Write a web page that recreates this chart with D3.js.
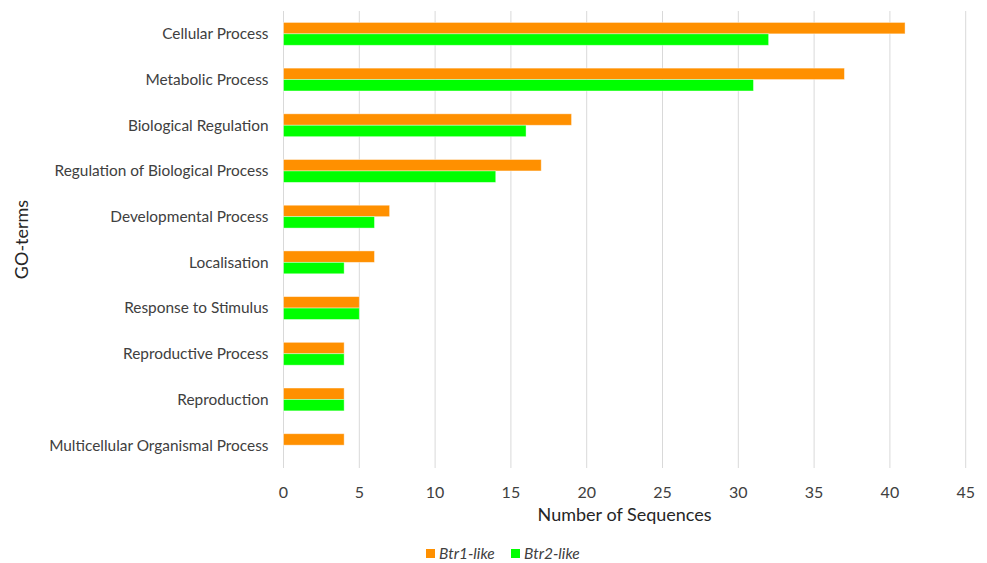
<!DOCTYPE html>
<html>
<head>
<meta charset="utf-8">
<script src="https://cdn.jsdelivr.net/npm/d3@7"></script>
<style>
  body { margin: 0; background: #fff; }
  svg { font-family: Lato, "Open Sans", sans-serif; }
</style>
</head>
<body>
<div id="chart"></div>
<script>
// data
var categories = ["Cellular Process", "Metabolic Process", "Biological Regulation",
    "Regulation of Biological Process", "Developmental Process", "Localisation",
    "Response to Stimulus", "Reproductive Process", "Reproduction",
    "Multicellular Organismal Process"];
var btr1 = [41, 37, 19, 17, 7, 6, 5, 4, 4, 4];
var btr2 = [32, 31, 16, 14, 6, 4, 5, 4, 4, 0];
var seriesNames = ["Btr1-like", "Btr2-like"];
var seriesColors = ["#ff9000", "#00ff00"];
var xTicks = [0, 5, 10, 15, 20, 25, 30, 35, 40, 45];

var width = 987, height = 563;
var plotLeft = 283.5, plotRight = 965.7, plotTop = 11, plotBottom = 468;

var svg = d3.select("#chart").append("svg")
    .attr("width", width)
    .attr("height", height);

var x = d3.scaleLinear().domain([0, 45]).range([plotLeft, plotRight]);
var y = d3.scaleBand().domain(categories).range([plotTop, plotBottom]).paddingInner(0.5).paddingOuter(0.25);
var ySub = d3.scaleBand().domain([0, 1]).range([0, y.bandwidth()]);

// gridlines
svg.append("g")
    .selectAll("line")
    .data(xTicks)
    .enter().append("line")
    .attr("x1", function(d) { return x(d); })
    .attr("x2", function(d) { return x(d); })
    .attr("y1", plotTop)
    .attr("y2", plotBottom)
    .style("stroke", "#d9d9d9")
    .style("stroke-width", 1);

// bars
var series = [btr1, btr2];
series.forEach(function(vals, s) {
    svg.append("g")
        .selectAll("rect")
        .data(vals)
        .enter().append("rect")
        .attr("x", x(0))
        .attr("y", function(d, i) { return y(categories[i]) + ySub(s); })
        .attr("width", function(d) { return x(d) - x(0); })
        .attr("height", ySub.bandwidth())
        .style("fill", seriesColors[s])
        .style("stroke", function(d) { return d > 0 ? "#ffffff" : "none"; })
        .style("stroke-opacity", 0.5)
        .style("stroke-width", 0.8);
});

// category labels
svg.append("g")
    .selectAll("text")
    .data(categories)
    .enter().append("text")
    .attr("x", plotLeft - 15)
    .attr("y", function(d) { return y(d) + y.bandwidth() / 2; })
    .attr("dy", "0.35em")
    .attr("text-anchor", "end")
    .style("font-size", "15.4px")
    .style("fill", "#404040")
    .text(function(d) { return d; });

// x tick labels
svg.append("g")
    .selectAll("text")
    .data(xTicks)
    .enter().append("text")
    .attr("x", function(d) { return x(d); })
    .attr("y", 498)
    .attr("text-anchor", "middle")
    .style("font-size", "16px")
    .style("fill", "#404040")
    .text(function(d) { return d; });

// axis titles
svg.append("text")
    .attr("x", (plotLeft + plotRight) / 2)
    .attr("y", 521)
    .attr("text-anchor", "middle")
    .style("font-size", "18px")
    .style("fill", "#262626")
    .text("Number of Sequences");

svg.append("text")
    .attr("transform", "translate(28," + ((plotTop + plotBottom) / 2) + ") rotate(-90)")
    .attr("text-anchor", "middle")
    .style("font-size", "18px")
    .style("fill", "#262626")
    .text("GO-terms");

// legend
var legend = svg.append("g");
var legendX = [426, 511];
seriesNames.forEach(function(name, i) {
    legend.append("rect")
        .attr("x", legendX[i])
        .attr("y", 549)
        .attr("width", 9)
        .attr("height", 9)
        .style("fill", seriesColors[i]);
    legend.append("text")
        .attr("x", legendX[i] + 13)
        .attr("y", 558.5)
        .style("font-size", "15.5px")
        .style("font-style", "italic")
        .style("fill", "#404040")
        .text(name);
});
</script>
</body>
</html>
